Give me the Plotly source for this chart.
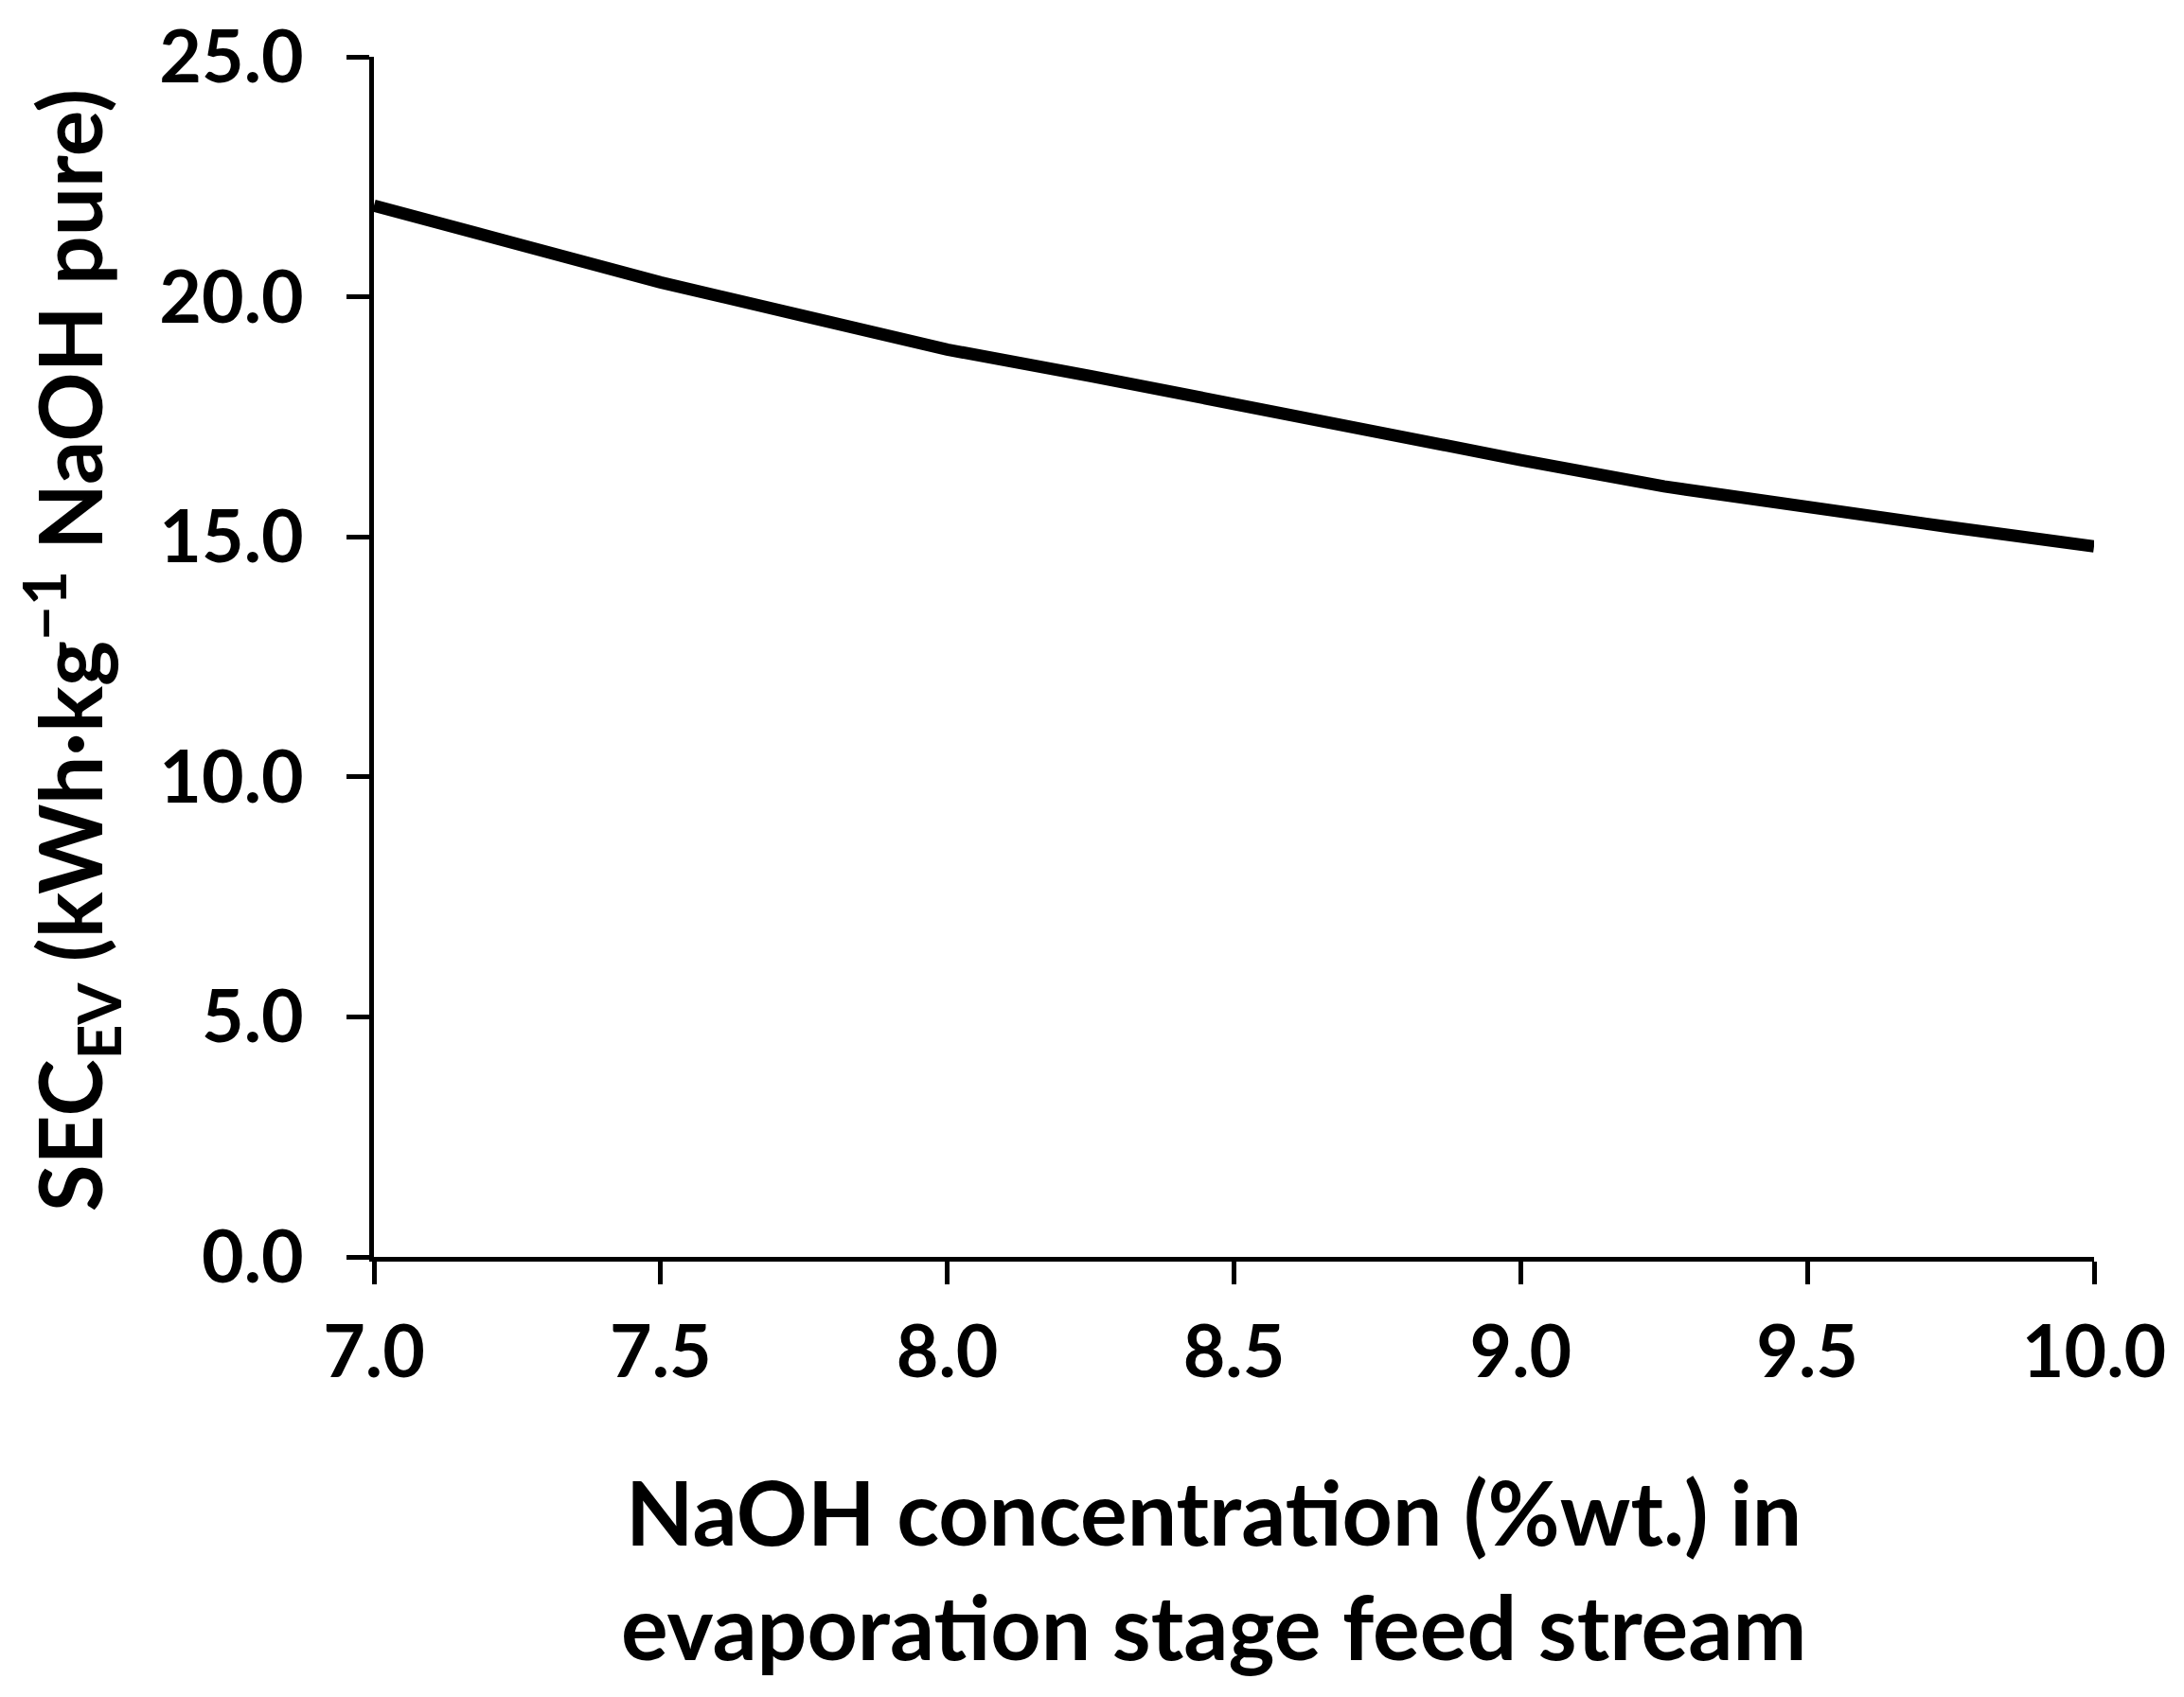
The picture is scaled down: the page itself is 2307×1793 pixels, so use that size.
import plotly.graph_objects as go

naoh_conc = [7.0, 7.25, 7.5, 7.75, 8.0, 8.25, 8.5, 8.75, 9.0, 9.25, 9.5, 9.75, 10.0]
sec_ev = [21.9, 21.1, 20.3, 19.6, 18.9, 18.35, 17.75, 17.2, 16.6, 16.05, 15.6, 15.2, 14.8]

x_ticks = [7.0, 7.5, 8.0, 8.5, 9.0, 9.5, 10.0]
y_ticks = [0.0, 5.0, 10.0, 15.0, 20.0, 25.0]

x_title = "NaOH concentration (%wt.) in<br>evaporation stage feed stream"
y_title = "SEC<sub>EV</sub> (kWh·kg<sup>−1</sup> NaOH pure)"

FONT = "Lato"

fig = go.Figure()
fig.add_trace(go.Scatter(x=naoh_conc, y=sec_ev, mode="lines",
                         line=dict(color="black", width=13), showlegend=False))

axis_common = dict(showline=True, linecolor="black", linewidth=5, ticks="outside",
                   ticklen=24, tickwidth=5, tickcolor="black", showgrid=False,
                   zeroline=False, tickformat=".1f", ticklabeloverflow="allow",
                   automargin=False,
                   tickfont=dict(family=FONT, size=77, color="black", weight="bold"))

fig.update_layout(
    width=2307, height=1793,
    margin=dict(l=387, r=103, t=52, b=473),
    paper_bgcolor="white", plot_bgcolor="white",
    xaxis=dict(range=[7, 10], tickvals=x_ticks, ticklabelstandoff=6, **axis_common),
    yaxis=dict(range=[0, 25], tickvals=y_ticks, ticklabelstandoff=30, **axis_common),
    annotations=[
        dict(text=x_title, xref="paper", yref="paper", x=0.488, y=-0.2595,
             xanchor="center", yanchor="middle", showarrow=False,
             font=dict(family=FONT, size=93, color="black", weight="bold")),
        dict(text=y_title, xref="paper", yref="paper", x=-0.1765, y=0.5055,
             xanchor="center", yanchor="middle", showarrow=False, textangle=-90,
             font=dict(family=FONT, size=91, color="black", weight="bold")),
    ],
)

fig.write_html("out.html")
